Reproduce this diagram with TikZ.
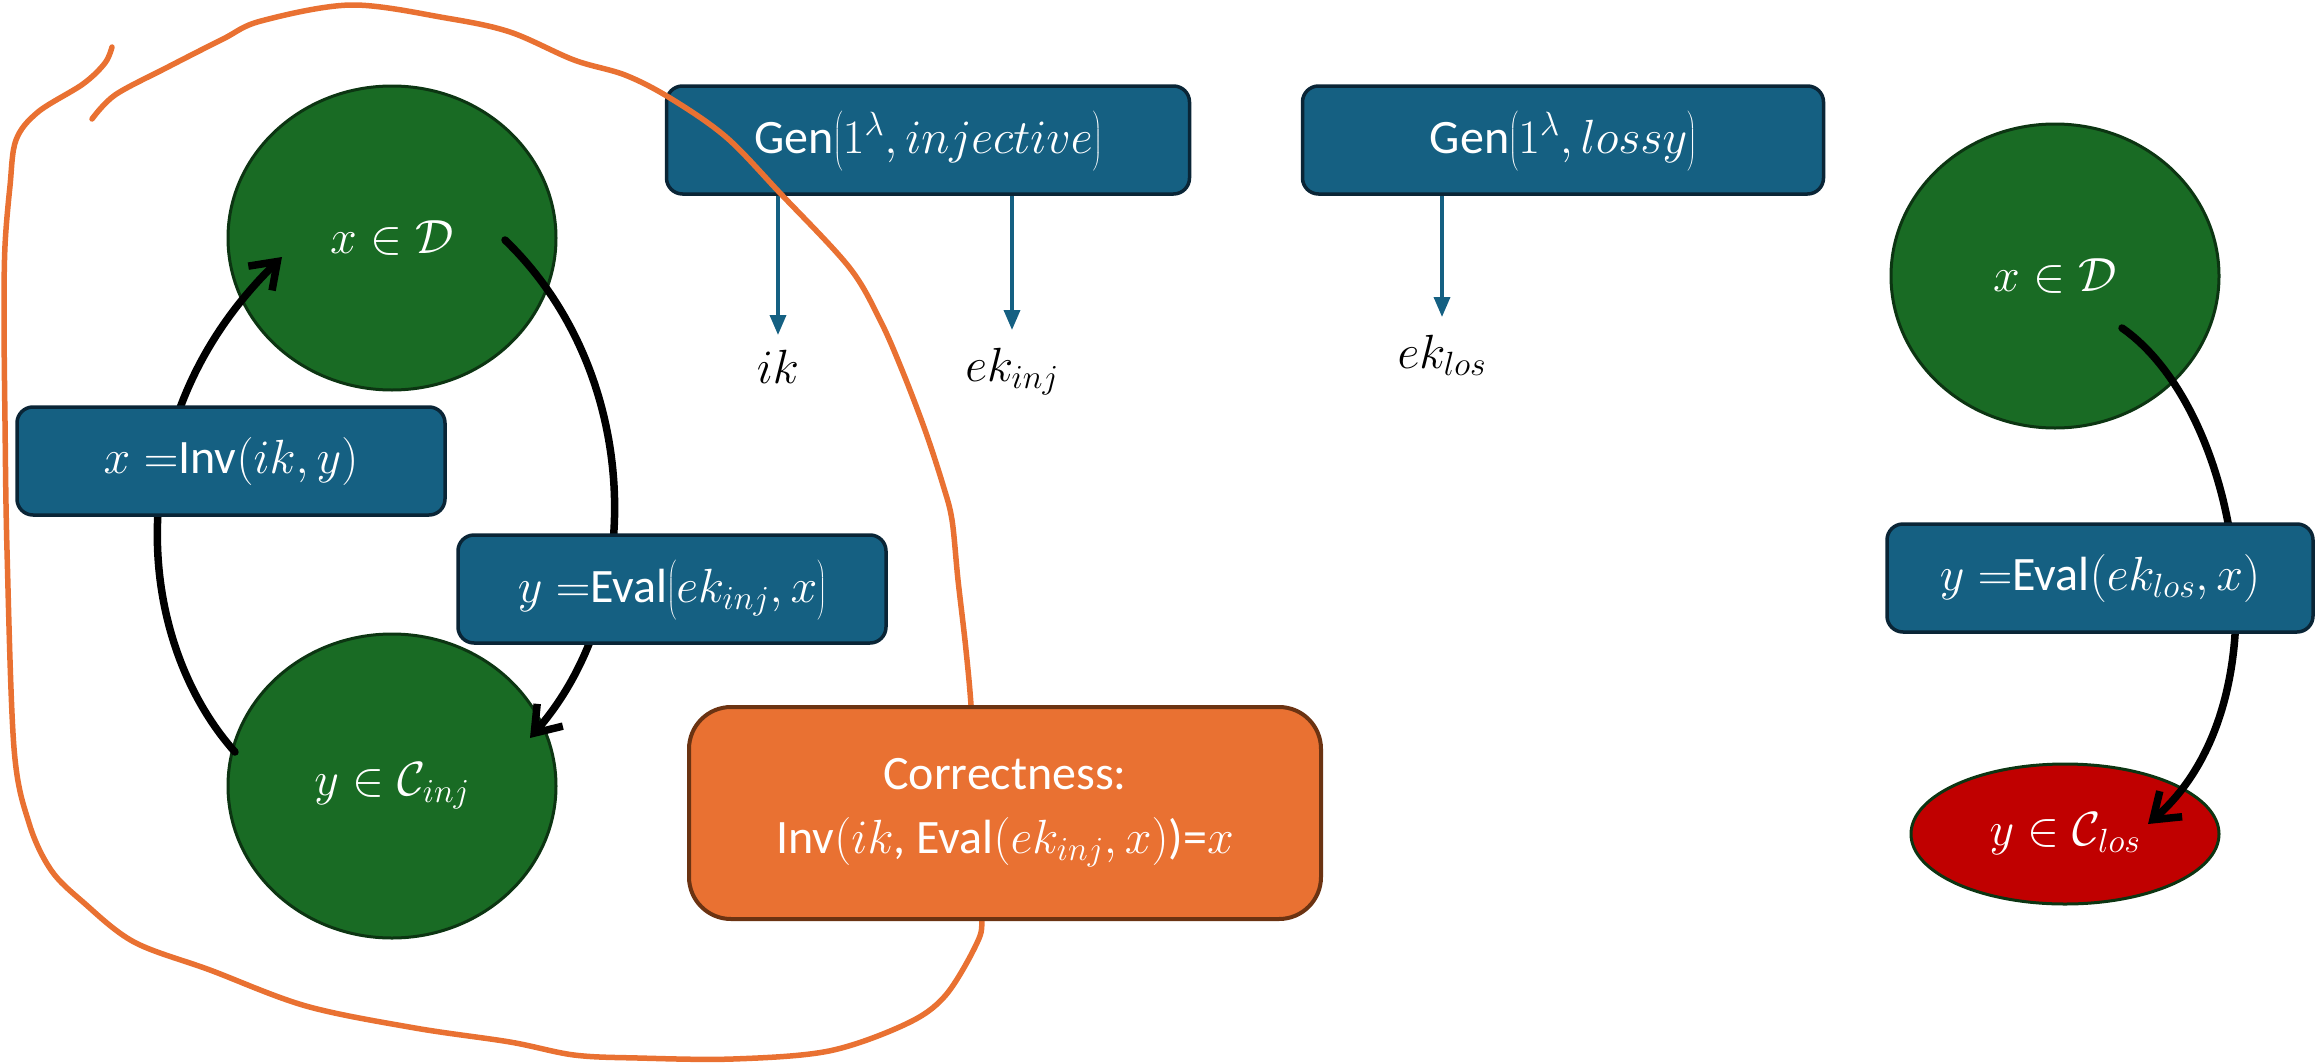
\RequirePackage{fix-cm}
\documentclass[tikz,border=0pt]{standalone}
\usepackage{fontspec}
\setmainfont{Carlito}
\usetikzlibrary{shapes.geometric,arrows.meta,calc}

\definecolor{boxblue}{HTML}{156082}
\definecolor{boxblueline}{HTML}{0A2536}
\definecolor{setgreen}{HTML}{196B24}
\definecolor{setgreenline}{HTML}{0C3512}
\definecolor{lossred}{HTML}{C00000}
\definecolor{accorange}{HTML}{E97132}
\definecolor{accorangeline}{HTML}{6B3312}

\newcommand\labelsize{\fontsize{48}{58}\selectfont}
% invisible strut that makes \left( \right) pick the next larger parenthesis
\newcommand\tallstrut{\vphantom{\rule[-16pt]{0pt}{60pt}}}

\begin{document}
\begin{tikzpicture}[x=1pt,y=-1pt,
  every node/.style={font=\labelsize},
  setnode/.style={ellipse, draw=setgreenline, line width=3pt, fill=setgreen,
    text=white, inner sep=0pt, minimum width=328pt, minimum height=304pt},
  lossnode/.style={setnode, fill=lossred, minimum width=308pt, minimum height=140pt},
  opbox/.style={draw=boxblueline, line width=3.5pt, fill=boxblue, text=white,
    rounded corners=16pt, inner sep=0pt, minimum width=428pt, minimum height=108pt},
  keylabel/.style={inner sep=0pt, anchor=north},
  keyarrow/.style={draw=boxblue, line width=3.5pt, -{Triangle[length=20pt,width=16pt]}},
  maparrow/.style={draw=black, line width=7.5pt, line cap=round,
    -{Straight Barb[length=24pt,width=34pt]}},
  sketch/.style={draw=accorange, line width=5.5pt, line cap=round, line join=round},
  notebox/.style={draw=accorangeline, line width=4pt, fill=accorange, text=white,
    rounded corners=42pt, align=center, minimum width=632pt, minimum height=212pt,
    font=\fontsize{48}{64}\selectfont}
]
\useasboundingbox (0,0) rectangle (2316,1063);

% domain and range sets
\node[setnode]  (D1)   at (392,238)  {$x\in\mathcal{D}$};
\node[setnode]  (Cinj) at (392,786)  {$y\in\mathcal{C}_{inj}$};
\node[setnode]  (D2)   at (2055,276) {$x\in\mathcal{D}$};
\node[lossnode] (Clos) at (2065,834) {$y\in\mathcal{C}_{los}$};

% mapping arcs between the sets
\coordinate (invFrom) at ($(Cinj.center)+(-157,-34)$);
\coordinate (invTo)   at ($(D1.center)+(-110,19)$);
\coordinate (evFrom)  at ($(D1.center)+(113,2)$);
\coordinate (evTo)    at ($(Cinj.center)+(138,-48)$);
\coordinate (elFrom)  at ($(D2.center)+(67,52)$);
\coordinate (elTo)    at ($(Clos.center)+(83,-10)$);
\draw[maparrow] (invFrom) .. controls (135,640) and (115,420) .. (invTo);
\draw[maparrow] (evFrom) .. controls (640,370) and (650,600) .. (evTo);
\draw[maparrow] (elFrom) .. controls (2240,410) and (2290,700) .. (elTo);

% operations
\node[opbox] (Inv) at (231,461) {$x =$Inv$(ik,y)$};
\node[opbox] (EvI) at (672,589) {$y =$Eval$\left(\tallstrut ek_{inj},x\right)$};
\node[opbox, minimum width=426pt] (EvL) at (2100,578) {$y =$Eval$(ek_{los},x)$};
\node[opbox, minimum width=523pt] (GenI) at (928,140) {Gen$\left(\tallstrut 1^{\lambda},injective\right)$};
\node[opbox, minimum width=521pt] (GenL) at (1563,140) {Gen$\left(\tallstrut 1^{\lambda},lossy\right)$};

% generated keys
\node[keylabel] (ik)    at (778,350)  {$ik$};
\node[keylabel] (ekinj) at (1012,348) {$ek_{inj}$};
\node[keylabel] (eklos) at (1442,335) {$ek_{los}$};
\draw[keyarrow] (ik.north |- GenI.south) -- ([yshift=15pt]ik.north);
\draw[keyarrow] (ekinj.north |- GenI.south) -- ([yshift=18pt]ekinj.north);
\draw[keyarrow] (eklos.north |- GenL.south) -- ([yshift=18pt]eklos.north);

% hand-drawn outline around the injective mode
\draw[sketch] plot[smooth, tension=0.55] coordinates {
  (92,119) (115,95) (166,68) (223,39) (261,21) (351,5) (446,18) (510,32)
  (574,60) (625,75) (670,98) (726,137) (780,193) (849,267) (880,320)
  (902,370) (925,430) (943,485) (952,520) (958,580) (966,650) (972,720)
  (978,850) (982,918) (976,945) (945,996) (906,1024) (829,1051) (733,1059)
  (638,1058) (574,1055) (510,1042) (415,1028) (306,1006) (210,970)
  (134,942) (83,902) (51,870) (29,823) (14,748) (7,550) (5,421) (4,316)
  (5,246) (10,186) (16,140) (38,112) (83,84) (105,63) (112,47)};

% correctness condition
\node[notebox] (Corr) at (1005,813) {Correctness:\\Inv$(ik$, Eval$(ek_{inj},x)$)=$x$};
\end{tikzpicture}
\end{document}
